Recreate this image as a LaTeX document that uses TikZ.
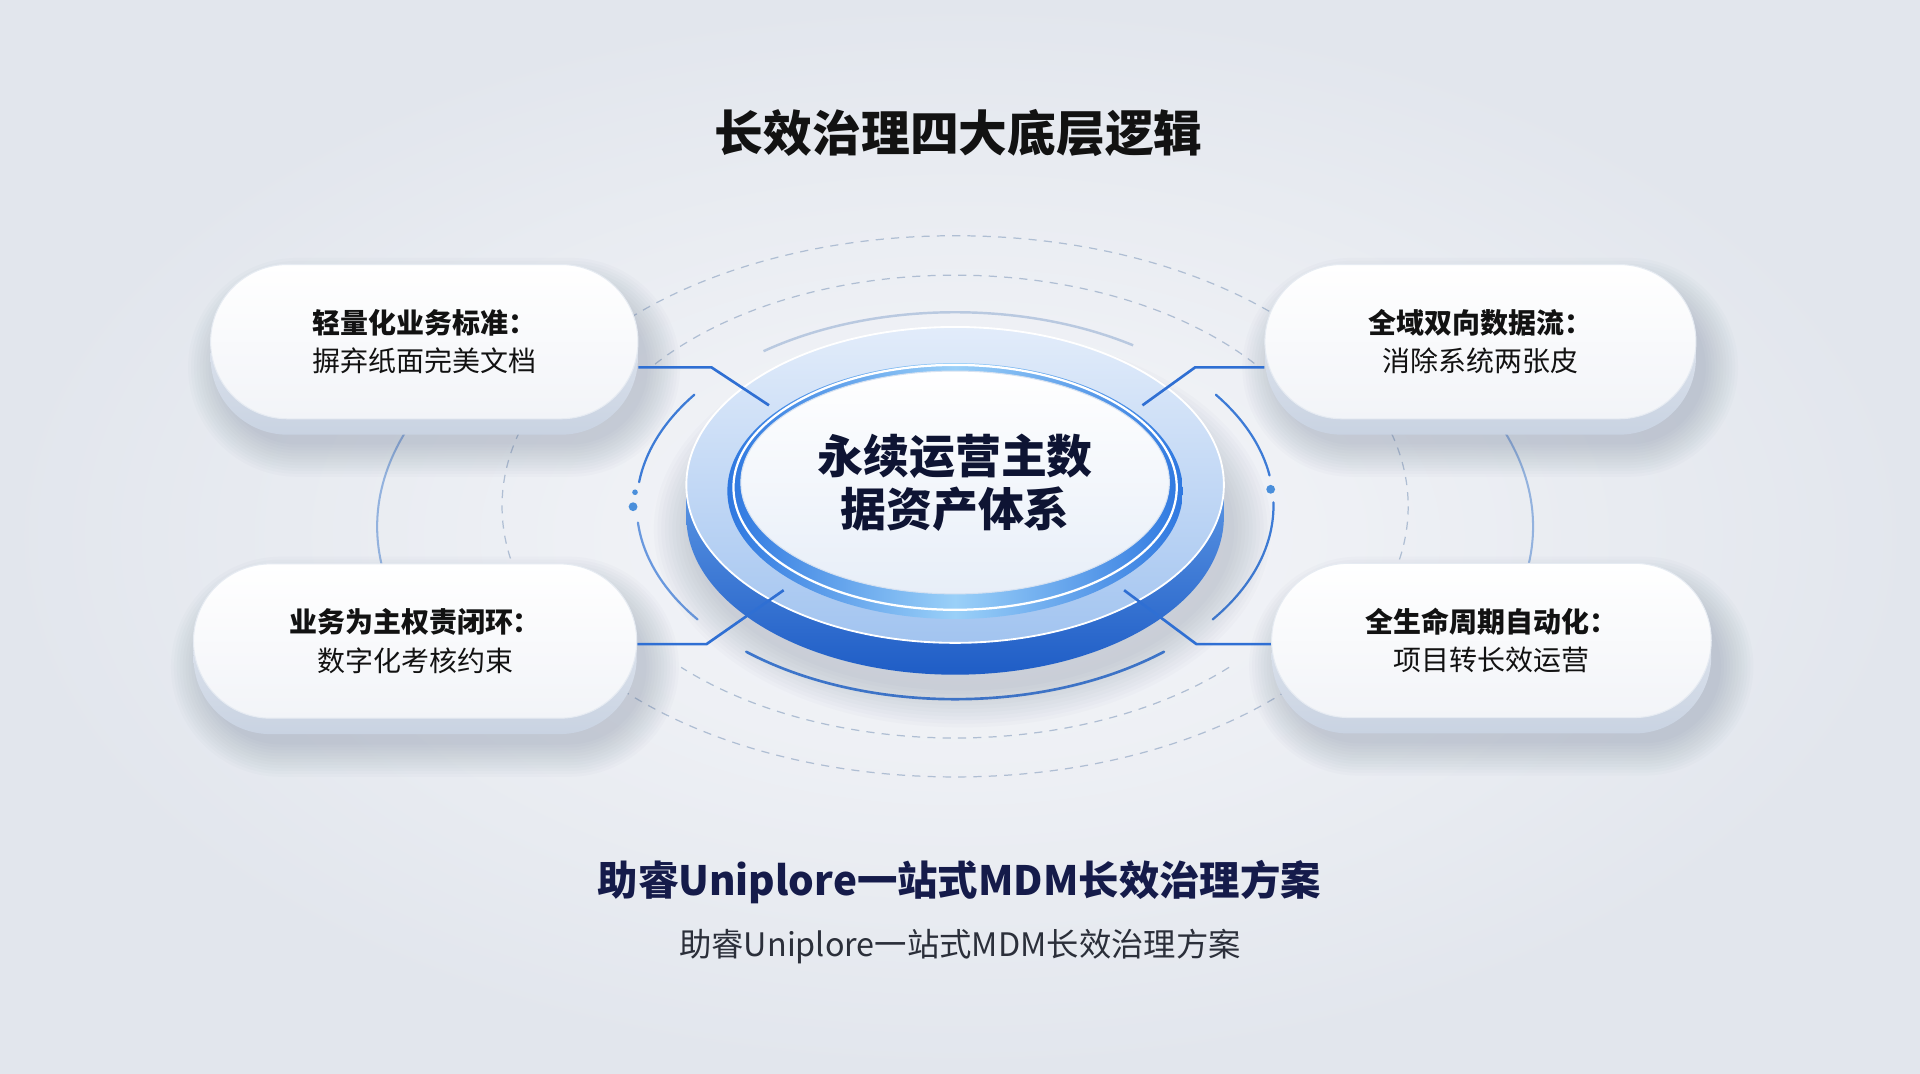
\documentclass[tikz,border=0pt]{standalone}
\usepackage{fontspec}
\setmainfont{Noto Sans CJK SC}
\usetikzlibrary{shapes.misc,shapes.geometric}
\pgfdeclarelayer{bg}
\pgfdeclarelayer{conn}
\pgfsetlayers{bg,conn,main}
\definecolor{bgA}{HTML}{F6F7FA}
\definecolor{bgB}{HTML}{E2E6ED}
\definecolor{lineblue}{HTML}{2F6FD3}
\definecolor{arcblue}{HTML}{3D7BD6}
\definecolor{fadeblue}{HTML}{93B2DE}
\definecolor{faintarc}{HTML}{B9C9E0}
\definecolor{dashgrey}{HTML}{AFBED3}
\definecolor{navy}{HTML}{151B4A}
\definecolor{corenavy}{HTML}{0E1433}
\definecolor{ink}{HTML}{121212}
\definecolor{subink}{HTML}{2B2F3A}
\definecolor{pillsideA}{HTML}{E7EBF2}
\definecolor{pillsideB}{HTML}{C9D3E2}
\definecolor{pillfaceB}{HTML}{F2F4F8}
\definecolor{pillrim}{HTML}{E6EBF2}
\definecolor{platTop}{HTML}{E2ECFA}
\definecolor{platBot}{HTML}{A2C4F0}
\definecolor{sideA}{HTML}{5B95E3}
\definecolor{sideB}{HTML}{1F5DC6}
\definecolor{ringL}{HTML}{2F78E0}
\definecolor{ringM}{HTML}{9AD0F8}
\definecolor{discBot}{HTML}{E7EEF8}
\definecolor{discRim}{HTML}{D5E1F1}
\definecolor{dotblue}{HTML}{4A8FDB}
\definecolor{shadowcol}{HTML}{5A6A88}
\newcommand{\ringarc}[3]{\draw[#1] (780,413) ++(#2:260 and 158) arc[start angle=#2,end angle=#3,x radius=260,y radius=158];}
% soft shadow of a pill: centre x, centre y, half width, half height (units)
\newcommand{\softpill}[4]{%
  \foreach \i in {0,...,11}{%
    \pgfmathsetmacro\grow{\i*2.4}%
    \pgfmathsetmacro\rr{(#4+\grow)*0.6}%
    \fill[shadowcol,opacity=0.022,rounded corners=\rr pt]
      ({#1-#3-\grow},{#2-#4-\grow}) rectangle ({#1+#3+\grow},{#2+#4+\grow});}}
\begin{document}
\begin{tikzpicture}[x=0.6pt,y=-0.6pt,
  conn/.style={draw=lineblue,line width=1.3pt,line join=round},
  pillbase/.style={rounded rectangle,inner sep=0pt,minimum height=75.6pt,
    top color=pillsideA,bottom color=pillsideB,draw=none},
  pillface/.style={rounded rectangle,inner sep=0pt,minimum height=75.6pt,
    top color=white,bottom color=pillfaceB,draw=pillrim,line width=0.5pt,
    align=center,font=\fontsize{13.7pt}{18.9pt}\selectfont,text=ink},
  dashring/.style={draw=dashgrey,line width=0.6pt,dash pattern=on 4pt off 3.5pt},
  bluearc/.style={draw=arcblue,line width=1.1pt,line cap=round},
  dot/.style={fill=dotblue,draw=none}]
\useasboundingbox (0,0) rectangle (1568,876.3);

\begin{pgfonlayer}{bg}
% background
\shade[inner color=bgA,outer color=bgB] (0,0) rectangle (1568,876.3);
% outer faint side arcs
\draw[fadeblue,line width=1pt] (780,430) ++(168:472 and 250) arc[start angle=168,end angle=200,x radius=472,y radius=250];
\draw[fadeblue,line width=1pt] (780,430) ++(-20:472 and 250) arc[start angle=-20,end angle=12,x radius=472,y radius=250];
% dashed rings
\draw[dashring] (780,413.5) ellipse[x radius=370,y radius=221];
\draw[dashring] (780,413.7) ++(-142:311 and 189) arc[start angle=-142,end angle=-38,x radius=311,y radius=189];
\draw[dashring] (780,413.7) ++(44:311 and 189) arc[start angle=44,end angle=136,x radius=311,y radius=189];
% inner blue ring segments
\ringarc{draw=faintarc,line width=1.2pt}{-127}{-56}
\ringarc{bluearc}{215}{187}
\ringarc{bluearc,draw opacity=0.75}{175}{144}
\ringarc{bluearc}{-35}{-9}
\ringarc{bluearc}{-1}{36}
\ringarc{bluearc,line width=1.3pt}{131}{49}
\fill[dot] (518.6,402) circle[radius=2.3];
\fill[dot] (517,413.8) circle[radius=3.6];
\fill[dot] (1037.7,399.6) circle[radius=3.6];
% platform shadow
\foreach \i in {0,...,10}{%
  \pgfmathsetmacro\grow{\i*3}%
  \fill[shadowcol,opacity=0.025] (786,432) ellipse[x radius={222+\grow},y radius={132+\grow}];}
% platform
\path[top color=sideA,bottom color=sideB]
  (560.5,396) -- (560.5,422) arc[start angle=180,end angle=0,x radius=219.5,y radius=129]
  -- (999.5,396) arc[start angle=0,end angle=180,x radius=219.5,y radius=129] -- cycle;
\path[top color=platTop,bottom color=platBot,draw=white,line width=0.9pt]
  (780,396) ellipse[x radius=219.5,y radius=129];
% pill shadows
\softpill{354.5}{300}{174.5}{63}
\softpill{1217}{300}{176}{63}
\softpill{347}{544.5}{181}{63.5}
\softpill{1226}{544}{179.5}{63}
\end{pgfonlayer}

% bright ring and core disc
\path[left color=ringL,right color=ringL,middle color=ringM] (780,401) ellipse[x radius=186,y radius=104.5];
\draw[white,line width=1.1pt] (780,398) ellipse[x radius=181,y radius=100];
\node[ellipse,minimum width=210pt,minimum height=109.2pt,inner sep=0pt,
  top color=white,bottom color=discBot,draw=discRim,line width=0.5pt,
  align=center,text=corenavy,font=\fontsize{22.5pt}{25.8pt}\selectfont\bfseries]
  (core) at (780,394) {永续运营主数\\据资产体系};

% pills
\node[pillbase,minimum width=209.4pt] (tlb) at (346.5,292) {};
\node[pillface,minimum width=209.4pt] (tl) at (346.5,279) {{\bfseries 轻量化业务标准：}\\摒弃纸面完美文档};
\node[pillbase,minimum width=211.2pt] (trb) at (1209,292) {};
\node[pillface,minimum width=211.2pt] (tr) at (1209,279) {{\bfseries 全域双向数据流：}\\消除系统两张皮};
\node[pillbase,minimum width=217.2pt] (blb) at (339,536.5) {};
\node[pillface,minimum width=217.2pt] (bl) at (339,523.5) {{\bfseries 业务为主权责闭环：}\\数字化考核约束};
\node[pillbase,minimum width=215.4pt] (brb) at (1218,536) {};
\node[pillface,minimum width=215.4pt] (br) at (1218,523) {{\bfseries 全生命周期自动化：}\\项目转长效运营};

% connectors
\coordinate (tlB) at (581,300); \coordinate (tlC) at (628,331);
\coordinate (trB) at (976,300); \coordinate (trC) at (933,331);
\coordinate (blB) at (577,526); \coordinate (blC) at (640,482);
\coordinate (brB) at (977,526); \coordinate (brC) at (918,482);
\begin{pgfonlayer}{conn}
\draw[conn] (tl.east |- tlB) -- (tlB) -- (tlC);
\draw[conn] (tr.west |- trB) -- (trB) -- (trC);
\draw[conn] (bl.east |- blB) -- (blB) -- (blC);
\draw[conn] (br.west |- brB) -- (brB) -- (brC);
\end{pgfonlayer}

% titles
\node[font=\fontsize{23.9pt}{28pt}\selectfont\bfseries,text=ink] (title) at (783,109) {长效治理四大底层逻辑};
\node[font=\fontsize{19.8pt}{24pt}\selectfont\bfseries,text=navy] (slogan) at (783.5,720) {助睿Uniplore一站式MDM长效治理方案};
\node[font=\fontsize{15.85pt}{20pt}\selectfont,text=subink] (tagline) at (784,773) {助睿Uniplore一站式MDM长效治理方案};
\end{tikzpicture}
\end{document}
